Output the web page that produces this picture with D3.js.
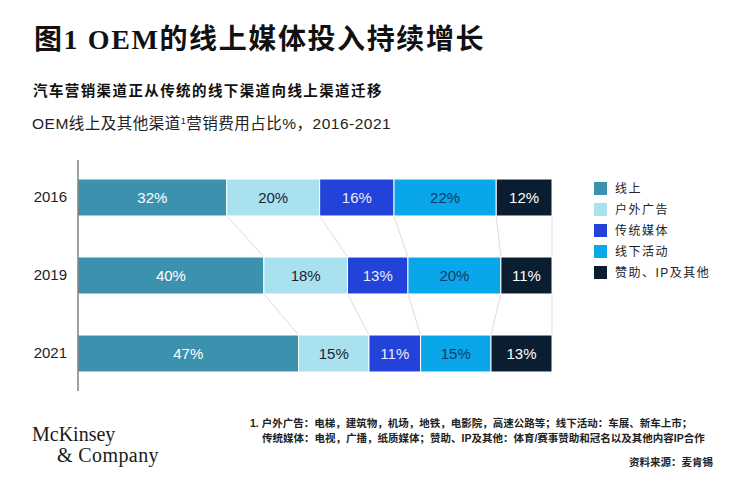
<!DOCTYPE html>
<html>
<head>
<meta charset="utf-8">
<script src="https://cdn.jsdelivr.net/npm/d3@7"></script>
<style>
  body { margin: 0; background: #fff; }
  text { font-family: Arial, "Liberation Sans", "Noto Sans CJK SC", sans-serif; }
</style>
</head>
<body>
<div id="chart"></div>
<script>
const width = 750;
const height = 495;

// data
const years = ['2016', '2019', '2021'];
const categories = ['线上', '户外广告', '传统媒体', '线下活动', '赞助、IP及其他'];
const online = [32, 40, 47];
const outdoor = [20, 18, 15];
const traditional = [16, 13, 11];
const offline = [22, 20, 15];
const sponsor = [12, 11, 13];
const colors = ['#3b91ae', '#a9e2ee', '#2342d9', '#0aa6ea', '#0b1d31'];
const labelColors = ['#ffffff', '#1a2433', '#e8ecff', '#0e3a66', '#ffffff'];

const seriesValues = [online, outdoor, traditional, offline, sponsor];
const rows = years.map((y, i) => {
  const r = { year: y };
  categories.forEach((c, j) => { r[c] = seriesValues[j][i]; });
  return r;
});

const svg = d3.select('#chart')
  .append('svg')
  .attr('width', width)
  .attr('height', height);

// titles
svg.append('text')
  .attr('x', 34).attr('y', 49)
  .style('font-family', '"Liberation Serif", "Noto Sans CJK SC", serif')
  .style('font-size', '28px')
  .style('font-weight', 'bold')
  .style('letter-spacing', '1.6px')
  .attr('fill', '#111')
  .text('图1 OEM的线上媒体投入持续增长');

svg.append('text')
  .attr('x', 33).attr('y', 96)
  .style('font-size', '14.5px')
  .style('font-weight', 'bold')
  .style('letter-spacing', '1.4px')
  .attr('fill', '#111')
  .text('汽车营销渠道正从传统的线下渠道向线上渠道迁移');

const sub = svg.append('text')
  .attr('x', 32).attr('y', 129)
  .style('font-size', '15.5px')
  .style('letter-spacing', '0.5px')
  .attr('fill', '#222');
sub.append('tspan').text('OEM线上及其他渠道');
sub.append('tspan').attr('dy', -5).style('font-size', '9px').text('1');
sub.append('tspan').attr('dy', 5).text('营销费用占比%，2016-2021');

// scales
const x = d3.scaleLinear().domain([0, 1]).range([78, 552]);
const y = d3.scaleBand().domain(years).range([158.5, 392.5])
  .paddingInner(0.526).paddingOuter(0.263);

const stack = d3.stack().keys(categories).offset(d3.stackOffsetExpand);
const series = stack(rows);

// connector lines between segment boundaries
const boundaries = [];
for (let i = 0; i < years.length - 1; i++) {
  series.forEach(s => {
    boundaries.push({ a: s[i][1], b: s[i + 1][1], y0: y(years[i]) + y.bandwidth(), y1: y(years[i + 1]) });
  });
}
svg.append('g')
  .selectAll('line')
  .data(boundaries)
  .enter()
  .append('line')
  .attr('x1', d => x(d.a))
  .attr('x2', d => x(d.b))
  .attr('y1', d => d.y0)
  .attr('y2', d => d.y1)
  .attr('stroke', '#dcdcdc')
  .attr('stroke-width', 1);

// bars
const groups = svg.append('g')
  .selectAll('g')
  .data(series)
  .enter()
  .append('g')
  .attr('fill', (d, i) => colors[i]);

groups.selectAll('rect')
  .data(d => d)
  .enter()
  .append('rect')
  .attr('x', d => x(d[0]))
  .attr('y', d => y(d.data.year))
  .attr('width', d => x(d[1]) - x(d[0]))
  .attr('height', y.bandwidth())
  .attr('stroke', '#fff')
  .attr('stroke-width', 1);

groups.each(function(s, i) {
  d3.select(this).selectAll('text')
    .data(s)
    .enter()
    .append('text')
    .attr('x', d => (x(d[0]) + x(d[1])) / 2)
    .attr('y', d => y(d.data.year) + y.bandwidth() / 2 + 5.5)
    .attr('text-anchor', 'middle')
    .style('font-size', '15px')
    .attr('fill', labelColors[i])
    .text(d => d.data[s.key] + '%');
});

// y axis
const yAxis = d3.axisLeft(y).tickSize(0).tickPadding(11);
const ya = svg.append('g')
  .attr('transform', 'translate(78,0)')
  .call(yAxis);
ya.select('.domain').remove();
ya.selectAll('text')
  .style('font-size', '15px')
  .attr('fill', '#222');
svg.append('line')
  .attr('x1', 78).attr('x2', 78)
  .attr('y1', 160).attr('y2', 391)
  .attr('stroke', '#444')
  .attr('stroke-width', 1);

// legend
const legend = svg.append('g')
  .attr('transform', 'translate(594,182)');
const items = legend.selectAll('g')
  .data(categories)
  .enter()
  .append('g')
  .attr('transform', (d, i) => 'translate(0,' + i * 21 + ')');
items.append('rect')
  .attr('width', 13).attr('height', 13)
  .attr('fill', (d, i) => colors[i]);
items.append('text')
  .attr('x', 21).attr('y', 11)
  .style('font-size', '12px')
  .style('letter-spacing', '1.5px')
  .attr('fill', '#222')
  .text(d => d);

// logo
const logo = svg.append('g')
  .attr('fill', '#1a1a1a');
logo.append('text')
  .attr('x', 32).attr('y', 441)
  .style('font-family', '"Liberation Serif", serif')
  .style('font-size', '20px')
  .text('McKinsey');
logo.append('text')
  .attr('x', 57).attr('y', 462)
  .style('font-family', '"Liberation Serif", serif')
  .style('font-size', '20px')
  .style('letter-spacing', '0.4px')
  .text('& Company');

// footnotes
const note = svg.append('g')
  .style('font-size', '10.5px')
  .style('font-weight', 'bold')
  .attr('fill', '#222');
note.append('text').attr('x', 250).attr('y', 427)
  .text('1. 户外广告：电梯，建筑物，机场，地铁，电影院，高速公路等；线下活动：车展、新车上市；');
note.append('text').attr('x', 262).attr('y', 442)
  .text('传统媒体：电视，广播，纸质媒体；赞助、IP及其他：体育/赛事赞助和冠名以及其他内容IP合作');
note.append('text').attr('x', 713).attr('y', 466)
  .attr('text-anchor', 'end')
  .text('资料来源：麦肯锡');
</script>
</body>
</html>
